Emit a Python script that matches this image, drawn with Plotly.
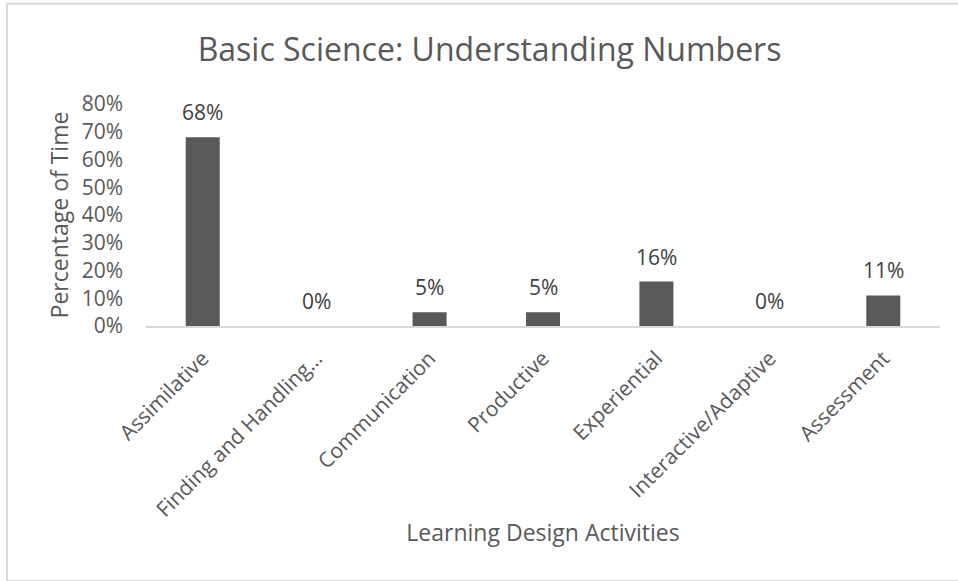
import plotly.graph_objects as go

categories = ["Assimilative", "Finding and Handling…", "Communication", "Productive",
              "Experiential", "Interactive/Adaptive", "Assessment"]
values = [0.68, 0.0, 0.05, 0.05, 0.16, 0.0, 0.11]
labels = ["68%", "0%", "5%", "5%", "16%", "0%", "11%"]
tick_vals = [0, 0.1, 0.2, 0.3, 0.4, 0.5, 0.6, 0.7, 0.8]
tick_text = ["0%", "10%", "20%", "30%", "40%", "50%", "60%", "70%", "80%"]

FONT = "Open Sans"
GRAY = "#595959"

fig = go.Figure()
fig.add_trace(go.Bar(
    x=categories, y=values, width=0.3,
    marker=dict(color="#595959", line=dict(width=0)),
    hoverinfo="skip",
))

for c, v, t in zip(categories, values, labels):
    fig.add_annotation(x=c, y=v, text=t, showarrow=False, yshift=25,
                       yanchor="middle", xanchor="center",
                       font=dict(family=FONT, size=21, color="#404040"))

border = dict(color="#d9d9d9", width=2)
fig.update_layout(
    width=958, height=581,
    margin=dict(l=146, r=18, t=104, b=255),
    paper_bgcolor="white", plot_bgcolor="white",
    showlegend=False,
    bargap=0.7,
    title=dict(text="Basic Science: Understanding Numbers",
               x=0.511, xref="container", xanchor="center",
               y=1 - 50 / 581, yref="container", yanchor="middle",
               font=dict(family=FONT, size=32, color=GRAY)),
    font=dict(family=FONT, color=GRAY),
    xaxis=dict(
        showline=True, linecolor="#d9d9d9", linewidth=1.5,
        ticks="", tickangle=-45, ticklabelstandoff=10,
        tickfont=dict(family=FONT, size=21, color=GRAY),
        title=dict(text="Learning Design Activities",
                   font=dict(family=FONT, size=23, color=GRAY), standoff=3),
        showgrid=False,
    ),
    yaxis=dict(
        range=[0, 0.8], tickvals=tick_vals, ticktext=tick_text,
        showgrid=False, zeroline=False, showline=False,
        tickfont=dict(family=FONT, size=21, color=GRAY),
        ticklen=0, ticks="", ticklabelstandoff=22,
        title=dict(text="Percentage of Time",
                   font=dict(family=FONT, size=23, color=GRAY), standoff=6),
    ),
    shapes=[
        dict(type="line", xref="paper", yref="paper",
             x0=-0.175, x1=1.1, y0=1.4515, y1=1.4515, line=border, layer="below"),
        dict(type="line", xref="paper", yref="paper",
             x0=-0.175, x1=-0.175, y0=-1.149, y1=1.4515, line=border, layer="below"),
        dict(type="line", xref="paper", yref="paper",
             x0=-0.175, x1=1.1, y0=-1.149, y1=-1.149, line=border, layer="below"),
    ],
)

fig.write_html("out.html",
               post_script="document.body.style.margin='0';document.body.style.overflow='hidden';",
               config={"displayModeBar": False},
               default_width="958px", default_height="581px")
